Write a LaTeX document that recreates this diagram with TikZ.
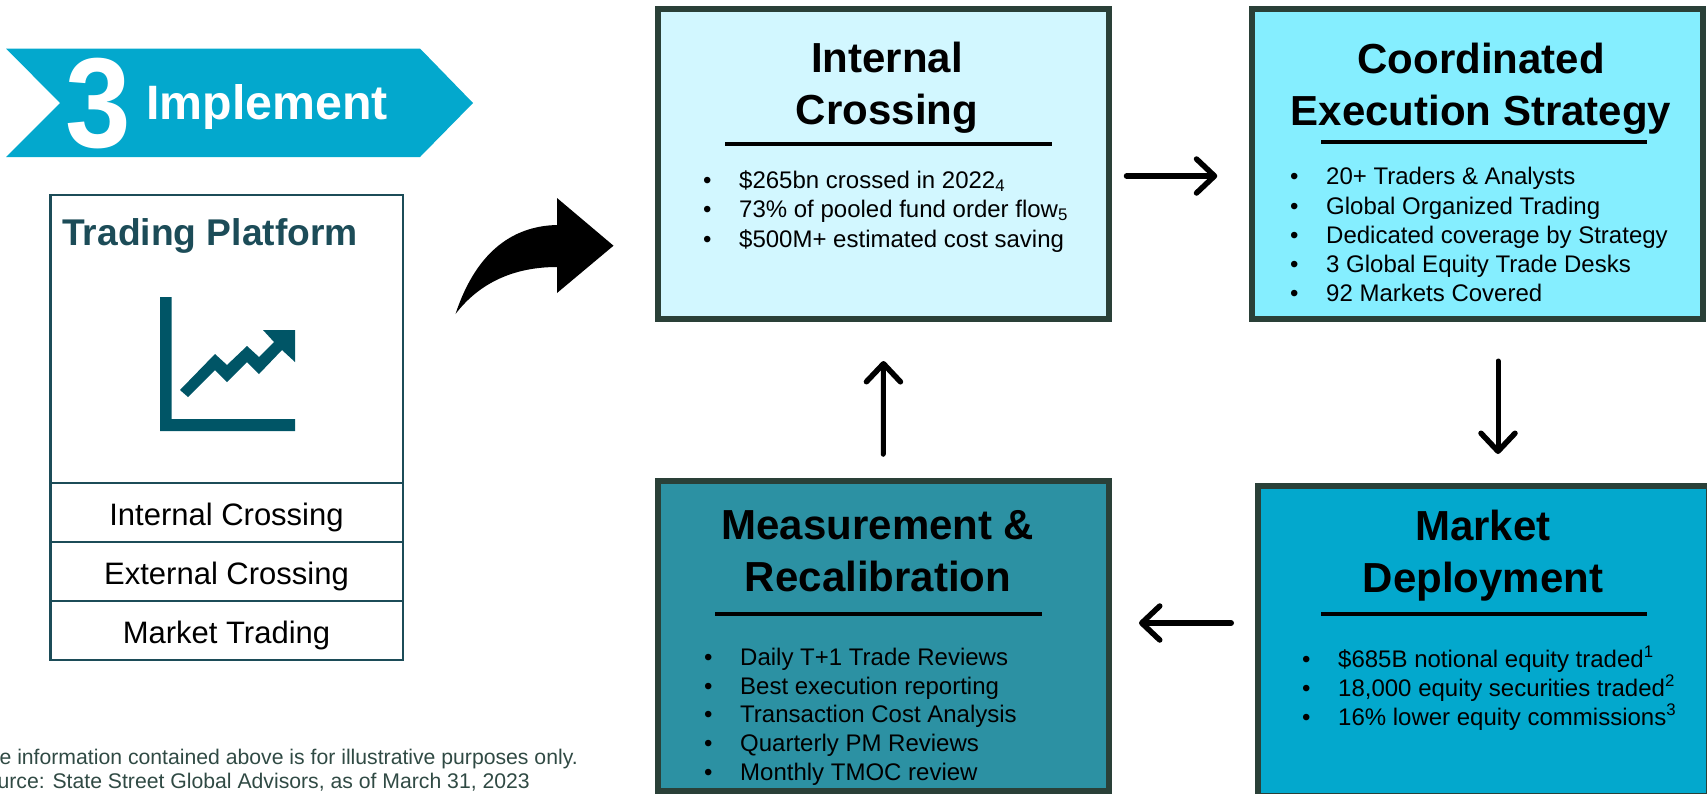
\documentclass[tikz,border=0pt]{standalone}
\usepackage{fontspec}
\setmainfont{Liberation Sans}
\usetikzlibrary{positioning,arrows.meta}
\definecolor{bannerblue}{HTML}{03A8CD}
\definecolor{darkline}{HTML}{2A4038}
\definecolor{platline}{HTML}{1C4C58}
\definecolor{iconblue}{HTML}{005566}
\definecolor{noteline}{HTML}{304A44}
\definecolor{paleblue}{HTML}{D2F7FF}
\definecolor{lightblue}{HTML}{85EEFF}
\definecolor{tealblue}{HTML}{2C91A3}
\tikzset{
  stepbox/.style={draw=darkline,line width=6pt,minimum width=450.5pt,minimum height=310pt,outer sep=0pt,inner sep=0pt},
  headtext/.style={font=\fontsize{42}{52}\selectfont\bfseries,align=center,inner sep=0pt},
  listline/.style={font=\fontsize{24}{28}\selectfont,anchor=base west,inner sep=0pt},
  rowbox/.style={draw=platline,line width=2.5pt,minimum width=352.5pt,minimum height=59pt,outer sep=0pt,inner sep=0pt,text height=31pt,text depth=6pt,font=\fontsize{31}{34}\selectfont},
  flowarrow/.style={line width=5pt,line cap=round,-{Straight Barb[round,length=18pt,width=34pt,line width=5.5pt]}},
  noteline/.style={font=\fontsize{21.2}{24}\selectfont,text=noteline,anchor=base east,inner sep=0pt}
}
\newcommand{\blt}{\makebox[36pt][l]{\textbullet}}
\begin{document}
\begin{tikzpicture}[x=1pt,y=-1pt]
\useasboundingbox (0,0) rectangle (1707,793);

\fill[bannerblue] (6,48.5) -- (420,48.5) -- (473,103) -- (420,157) -- (6,157) -- (60,103) -- cycle;
\node[text=white,font=\fontsize{128}{130}\selectfont\bfseries,inner sep=0pt] (bignum) at (98,104) {\scalebox{.92}[1]{3}};
\node[text=white,font=\fontsize{48.3}{50}\selectfont\bfseries,anchor=base west,inner sep=0pt] (implement) at (146,119) {Implement};

\node[rowbox,minimum height=288pt] (platbox) at (226.5,339) {};
\node[rowbox,below=0pt of platbox] (rowint) {Internal Crossing};
\node[rowbox,below=0pt of rowint] (rowext) {External Crossing};
\node[rowbox,below=0pt of rowext] (rowmkt) {Market Trading};
\node[text=platline,font=\fontsize{37.2}{40}\selectfont\bfseries,anchor=base west,inner sep=0pt] (plattitle) at (62,245) {Trading Platform};

\fill[iconblue] (160,297) -- (171.5,297) -- (171.5,419) -- (295,419) -- (295,431) -- (160,431) -- cycle;
\fill[iconblue] (180,390) -- (215,354) -- (227,365) -- (247,346) -- (259,357) -- (274,342) -- (263,330) -- (295,330) -- (295,362) -- (282,350) -- (259,374) -- (247,362) -- (227,382) -- (215,370) -- (188,397) -- cycle;

\fill[black] (455.5,314) .. controls (475,255) and (510,226) .. (557,225) -- (557,198) -- (613.5,245.7) -- (557,293) -- (557,267) .. controls (515,267) and (480,282) .. (455.5,314) -- cycle;

\node[noteline] (noteone) at (578,764) {e information contained above is for illustrative purposes only.};
\node[noteline] (notetwo) at (530,788) {urce: State Street Global Advisors, as of March 31, 2023};

\node[stepbox,fill=paleblue] (intbox) at (883.5,164) {};
\node[stepbox,fill=lightblue] (coordbox) at (1477.5,164) {};
\node[stepbox,fill=tealblue] (measbox) at (883.25,636.25) {};
\node[stepbox,fill=bannerblue] (mktbox) at (1483.25,640.7) {};

\node[headtext] (inthead) at (887,88) {Internal\\Crossing};
\node[headtext] (coordhead) at (1481,89) {Coordinated\\Execution Strategy};
\node[headtext] (meashead) at (878,551.5) {Measurement \&\\Recalibration};
\node[headtext] (mkthead) at (1483,556) {Market\\Deployment};

\draw[line width=4.5pt] (725,144) -- (1052,144);
\draw[line width=4.5pt] (1321,142) -- (1647,142);
\draw[line width=4.5pt] (715,614) -- (1042,614);
\draw[line width=4.5pt] (1321,614) -- (1647,614);

\node[listline] (intone) at (703,188) {\blt\$265bn crossed in 2022\textsubscript{4}};
\node[listline] (inttwo) at (703,217) {\blt 73\% of pooled fund order flow\textsubscript{5}};
\node[listline] (intthree) at (703,247) {\blt\$500M+ estimated cost saving};

\node[listline] (coordone) at (1290,184) {\blt 20+ Traders \& Analysts};
\node[listline] (coordtwo) at (1290,214) {\blt Global Organized Trading};
\node[listline] (coordthree) at (1290,243) {\blt Dedicated coverage by Strategy};
\node[listline] (coordfour) at (1290,272) {\blt 3 Global Equity Trade Desks};
\node[listline] (coordfive) at (1290,301) {\blt 92 Markets Covered};

\node[listline] (mktone) at (1302,667) {\blt\$685B notional equity traded\textsuperscript{1}};
\node[listline] (mkttwo) at (1302,696) {\blt 18,000 equity securities traded\textsuperscript{2}};
\node[listline] (mktthree) at (1302,725) {\blt 16\% lower equity commissions\textsuperscript{3}};

\node[listline] (measone) at (704,665) {\blt Daily T+1 Trade Reviews};
\node[listline] (meastwo) at (704,694) {\blt Best execution reporting};
\node[listline] (measthree) at (704,722) {\blt Transaction Cost Analysis};
\node[listline] (measfour) at (704,751) {\blt Quarterly PM Reviews};
\node[listline] (measfive) at (704,780) {\blt Monthly TMOC review};

\draw[flowarrow,line width=6pt] ([xshift=18pt,yshift=-12pt]intbox.east) -- ([xshift=-35pt,yshift=-12pt]coordbox.west);
\draw[flowarrow] ([xshift=20.5pt,yshift=-42pt]coordbox.south) -- ([xshift=14.75pt,yshift=31.7pt]mktbox.north);
\draw[flowarrow,line width=6pt] ([xshift=-27pt,yshift=17.7pt]mktbox.west) -- ([xshift=30.5pt,yshift=13.25pt]measbox.east);
\draw[flowarrow] ([yshift=27pt]measbox.north) -- ([yshift=-42pt]intbox.south);
\end{tikzpicture}
\end{document}
